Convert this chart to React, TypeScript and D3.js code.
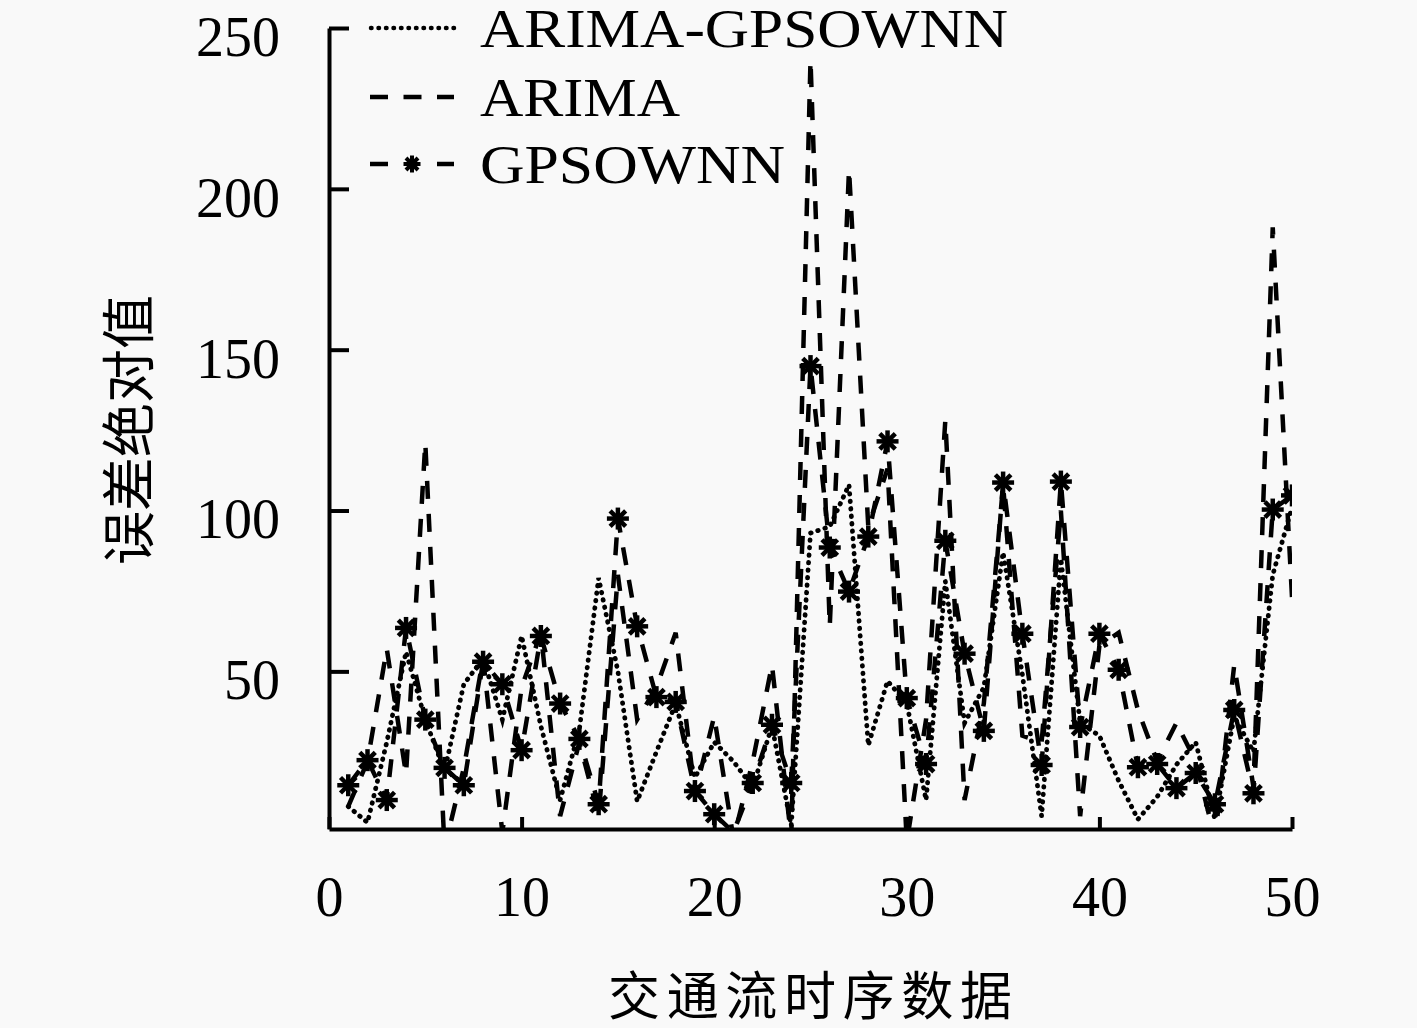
import { useEffect, useRef } from "react";
import * as d3 from "d3";

// x = 1..50 (traffic-flow samples)
const hybridErr = [
  8, 3, 28, 56, 35, 19, 46, 54, 35, 61,
  33, 10, 32, 79, 50, 9.6, 25, 40, 17, 28,
  22, 14, 33, 2, 93, 95, 108, 27, 47, 40,
  10, 78, 34, 45, 87, 49, 5, 85, 34, 30,
  16, 4, 11, 21, 28, 4, 36, 25, 80, 101,
];
const arimaErr = [
  8, 22, 57, 18, 121, -5, 20, 54, 0, 45,
  62, 5, 28, 5, 80, 35, 45, 62, 12, 36,
  -2, 22, 52, -2, 240, 64, 206, 95, 113, -3,
  35, 128, 10, 40, 108, 30, 28, 100, 5, 58,
  62, 38, 22, 34, 22, -2, 52, 14, 188, 73,
];
const gpsoErr = [
  14.6, 22.4, 10, 63.5, 35, 20, 14.6, 53, 46, 25.5,
  61, 40, 29, 8.7, 97.5, 64, 42, 40.5, 12.8, 5.6,
  0, 15.3, 33.4, 15.3, 144.9, 88.5, 74.8, 91.9, 121.5, 41.7,
  21.2, 90.6, 55.5, 31.5, 108.7, 61.7, 20.9, 109, 32.7, 61.7,
  50.5, 20.2, 21.2, 13.7, 18.4, 8.7, 38, 12.1, 100.3, 104.7,
];
const xTicks = [0, 10, 20, 30, 40, 50];
const yTicks = [50, 100, 150, 200, 250];
const legendNames = ["ARIMA-GPSOWNN", "ARIMA", "GPSOWNN"];

const W = 1417;
const H = 1028;
const serif = "'Liberation Serif', 'Times New Roman', serif";
const cjk = "'Noto Sans CJK SC', sans-serif";
const dotted = "0.5 7";
const dashed = "18 15";

const App = () => {
  const svgRef = useRef<SVGSVGElement>(null);

  useEffect(() => {
    const svg = d3.select(svgRef.current);
    svg.selectAll("*").remove();

    const plot = { left: 329, right: 1292, top: 28, bottom: 829 };

    const x = d3.scaleLinear().domain([0, 50]).range([plot.left, plot.right]);
    const y = d3.scaleLinear().domain([1, 250]).range([plot.bottom, plot.top]);

    svg.append("rect").attr("width", W).attr("height", H).attr("fill", "#f9f9f9");

    svg.append("clipPath").attr("id", "plotClip")
      .append("rect")
      .attr("x", plot.left).attr("y", plot.top)
      .attr("width", plot.right - plot.left).attr("height", plot.bottom - plot.top);

    const line = d3.line<number>()
      .x((_, i) => x(i + 1))
      .y((d) => y(d));

    const g = svg.append("g").attr("clip-path", "url(#plotClip)");

    // hybrid model (dotted)
    g.append("path")
      .attr("d", line(hybridErr))
      .attr("fill", "none").attr("stroke", "#000")
      .attr("stroke-width", 4.8).attr("stroke-linecap", "round")
      .attr("stroke-dasharray", dotted);

    // ARIMA (dashed)
    g.append("path")
      .attr("d", line(arimaErr))
      .attr("fill", "none").attr("stroke", "#000")
      .attr("stroke-width", 4.5)
      .attr("stroke-dasharray", dashed);

    // GPSOWNN (dashed + stars)
    g.append("path")
      .attr("d", line(gpsoErr))
      .attr("fill", "none").attr("stroke", "#000")
      .attr("stroke-width", 4.5)
      .attr("stroke-dasharray", dashed);

    const star = (sel: any, r: number, w: number) => {
      [0, 45, 90, 135].forEach((a) => {
        const rad = (a * Math.PI) / 180;
        sel.append("line")
          .attr("x1", -r * Math.cos(rad)).attr("y1", -r * Math.sin(rad))
          .attr("x2", r * Math.cos(rad)).attr("y2", r * Math.sin(rad))
          .attr("stroke", "#000").attr("stroke-width", w);
      });
      sel.append("circle").attr("r", r * 0.45).attr("fill", "#000");
    };

    gpsoErr.forEach((d, i) => {
      if (d < 1) return;
      const s = g.append("g").attr("transform", `translate(${x(i + 1)},${y(d)})`);
      star(s, 11, 4.5);
    });

    // axes
    const yAxis = svg.append("g")
      .attr("transform", `translate(${plot.left},0)`)
      .call(d3.axisLeft(y).tickValues(yTicks).tickSize(-20).tickSizeOuter(0).tickPadding(49).tickFormat(d3.format("d")));
    const xAxis = svg.append("g")
      .attr("transform", `translate(0,${plot.bottom})`)
      .call(d3.axisBottom(x).tickValues(xTicks).tickSize(-12).tickSizeOuter(0).tickPadding(47).tickFormat(d3.format("d")));

    [yAxis, xAxis].forEach((ax) => {
      ax.select(".domain").attr("stroke", "#000").attr("stroke-width", 4);
      ax.selectAll(".tick line").attr("stroke", "#000").attr("stroke-width", 4);
      ax.selectAll("text")
        .attr("fill", "#000")
        .style("font-family", serif)
        .style("font-size", "56px");
    });
    yAxis.selectAll("text").attr("dy", "0.49em");

    // legend
    const legendY = [28, 97, 164];
    const legendLen = [528, 200, 305];
    legendNames.forEach((name, i) => {
      const ly = legendY[i];
      const lg = svg.append("g");
      if (i === 0) {
        lg.append("line")
          .attr("x1", 371).attr("x2", 454).attr("y1", ly).attr("y2", ly)
          .attr("stroke", "#000").attr("stroke-width", 4.5)
          .attr("stroke-linecap", "round").attr("stroke-dasharray", dotted);
      } else if (i === 1) {
        lg.append("line")
          .attr("x1", 370).attr("x2", 454).attr("y1", ly).attr("y2", ly)
          .attr("stroke", "#000").attr("stroke-width", 4.5)
          .attr("stroke-dasharray", "18 15.5");
      } else {
        [[370, 388], [437, 454]].forEach(([a, b]) => {
          lg.append("line")
            .attr("x1", a).attr("x2", b).attr("y1", ly).attr("y2", ly)
            .attr("stroke", "#000").attr("stroke-width", 4.5);
        });
        star(lg.append("g").attr("transform", `translate(412,${ly})`), 8.5, 4);
      }
      lg.append("text")
        .attr("x", 480).attr("y", ly + 19)
        .attr("textLength", legendLen[i])
        .attr("lengthAdjust", "spacingAndGlyphs")
        .style("font-family", serif).style("font-size", "54px")
        .text(name);
    });

    // axis titles
    svg.append("text")
      .attr("transform", "translate(125,430) rotate(-90)")
      .attr("text-anchor", "middle").attr("dominant-baseline", "central")
      .style("font-family", cjk).style("font-size", "54px")
      .text("误差绝对值");
    svg.append("text")
      .attr("x", 810).attr("y", 992)
      .attr("text-anchor", "middle").attr("dominant-baseline", "central")
      .attr("textLength", 404)
      .style("font-family", cjk).style("font-size", "52px")
      .text("交通流时序数据");
  }, []);

  return (
    <svg
      ref={svgRef}
      width={W}
      height={H}
      style={{ position: "absolute", left: 0, top: 0, display: "block" }}
    ></svg>
  );
};

export default App;
